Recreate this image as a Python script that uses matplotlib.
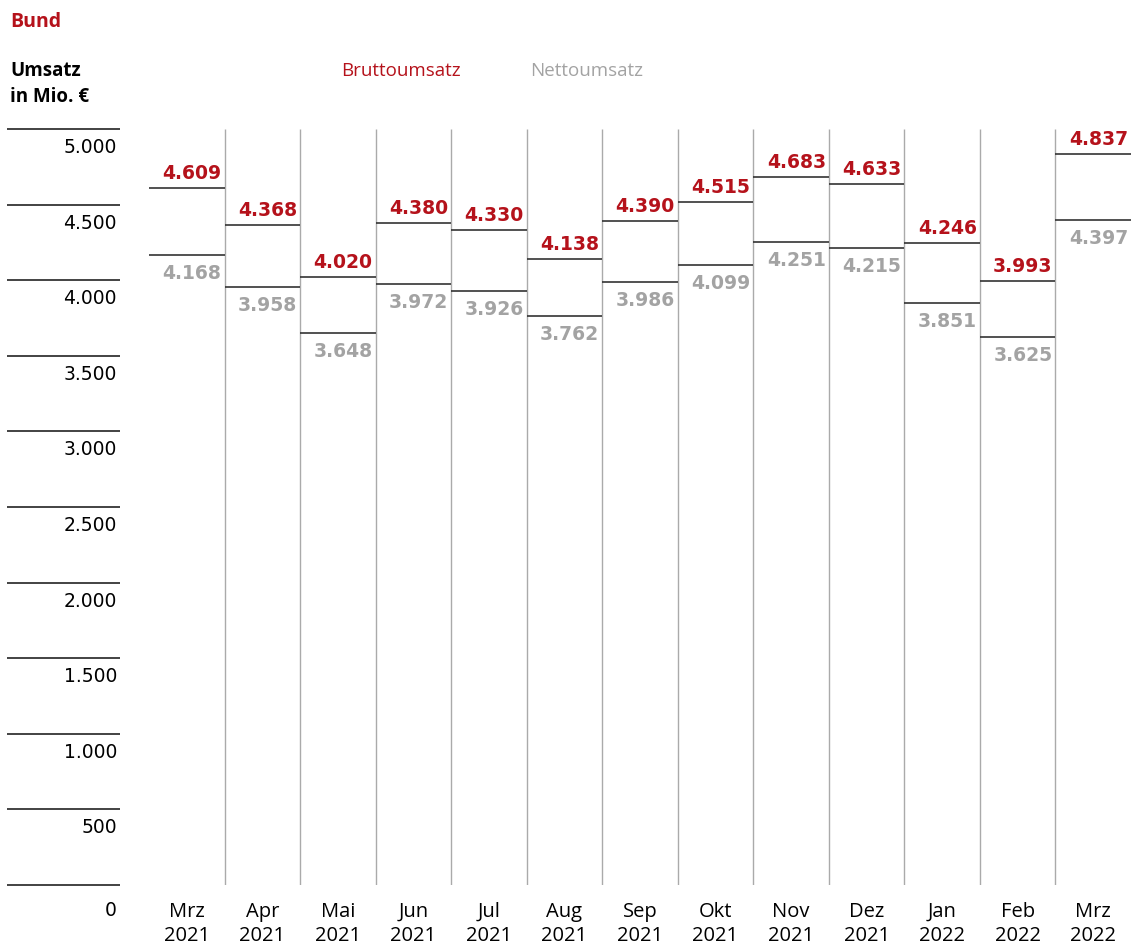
import matplotlib
matplotlib.use("Agg")
import matplotlib.pyplot as plt
from matplotlib.transforms import offset_copy

months = ["Mrz\n2021", "Apr\n2021", "Mai\n2021", "Jun\n2021", "Jul\n2021", "Aug\n2021",
          "Sep\n2021", "Okt\n2021", "Nov\n2021", "Dez\n2021", "Jan\n2022", "Feb\n2022", "Mrz\n2022"]
gross = [4609, 4368, 4020, 4380, 4330, 4138, 4390, 4515, 4683, 4633, 4246, 3993, 4837]
net = [4168, 3958, 3648, 3972, 3926, 3762, 3986, 4099, 4251, 4215, 3851, 3625, 4397]
yticks = [0, 500, 1000, 1500, 2000, 2500, 3000, 3500, 4000, 4500, 5000]

RED = "#b5121b"
GRAY = "#a3a3a3"
FONT = "Open Sans"
NUMFONT = "DejaVu Sans"

def fmt(v):
    return f"{v:,}".replace(",", ".")

W, H = 1131, 945
fig = plt.figure(figsize=(W / 100, H / 100), dpi=100)
x0, x1, ytop, ybot = 149, 1131, 130, 886
ax = fig.add_axes([x0 / W, (H - ybot) / H, (x1 - x0) / W, (ybot - ytop) / H])
ax.set_xlim(0, len(months))
ax.set_ylim(0, 5000)
ax.axis("off")

n = len(months)
# vertical separators
ax.vlines(range(1, n), 0, 5000, color="#aaaaaa", lw=1.0)
# horizontal value segments
idx = list(range(n))
ax.hlines(gross, idx, [i + 1 for i in idx], color="#333333", lw=1.2)
ax.hlines(net, idx, [i + 1 for i in idx], color="#333333", lw=1.2)

tr_up = offset_copy(ax.transData, fig=fig, x=-3, y=10, units="dots")
tr_dn = offset_copy(ax.transData, fig=fig, x=-3, y=-23, units="dots")
for i, (g, nv) in enumerate(zip(gross, net)):
    ax.text(i + 1, g, fmt(g), transform=tr_up, ha="right", va="baseline",
            color=RED, fontsize=13.5, fontweight="bold", family=NUMFONT)
    ax.text(i + 1, nv, fmt(nv), transform=tr_dn, ha="right", va="baseline",
            color=GRAY, fontsize=13.5, fontweight="bold", family=NUMFONT)

# month labels
for i, m in enumerate(months):
    fig.text((x0 + (i + 0.5) * (x1 - x0) / n) / W, 1 - 924 / H, m, ha="center", va="center",
             fontsize=14.5, family=FONT, linespacing=1.25)

# y axis lines and labels
ytr = ax.get_yaxis_transform()
lx0 = (7 - x0) / (x1 - x0)
lx1 = (120 - x0) / (x1 - x0)
lxt = (117 - x0) / (x1 - x0)
ax.hlines(yticks, lx0, lx1, transform=ytr, color="#222222", lw=1.2, clip_on=False)
tr_lab = offset_copy(ytr, fig=fig, x=0, y=-23, units="dots")
for v in yticks:
    if v == 0:
        fig.text(117 / W, 1 - 911 / H, "0", ha="right", va="center", fontsize=13.5, family=NUMFONT)
    else:
        ax.text(lxt, v, fmt(v), transform=tr_lab, ha="right", va="baseline",
                fontsize=13.5, family=NUMFONT, clip_on=False)

# titles
fig.text(10 / W, 1 - 22 / H, "Bund", color=RED, fontsize=14, fontweight="bold",
         family=FONT, ha="left", va="center")
fig.text(10 / W, 1 - 84 / H, "Umsatz\nin Mio. €", color="black", fontsize=13.5, fontweight="bold",
         family=FONT, ha="left", va="center", linespacing=1.4)
fig.text(341 / W, 1 - 71 / H, "Bruttoumsatz", color=RED, fontsize=13.5, family=FONT,
         ha="left", va="center")
fig.text(530 / W, 1 - 71 / H, "Nettoumsatz", color=GRAY, fontsize=13.5, family=FONT,
         ha="left", va="center")

fig.savefig("out.png", dpi=100)
